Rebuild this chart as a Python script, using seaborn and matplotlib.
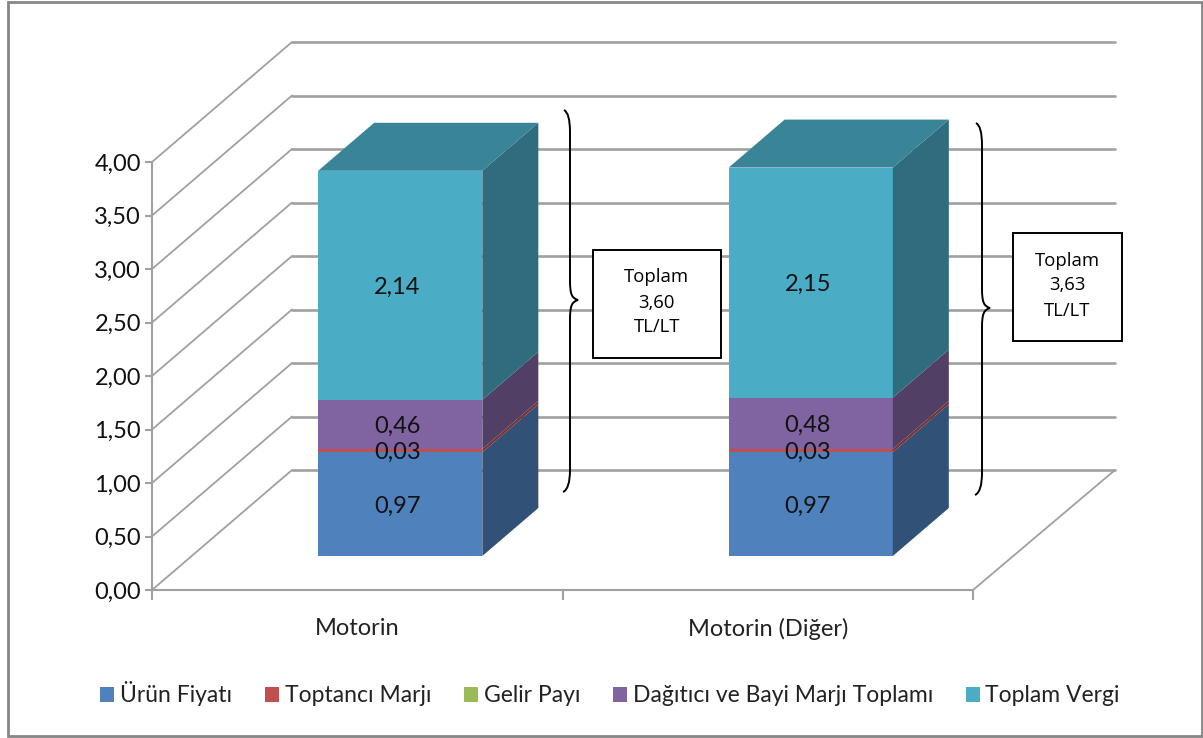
import matplotlib.pyplot as plt
import matplotlib.patches as mpatches
from matplotlib.path import Path
from matplotlib.transforms import Affine2D
import numpy as np
import seaborn as sns

categories = ['Motorin', 'Motorin (Diğer)']
series_names = ['Ürün Fiyatı', 'Toptancı Marjı', 'Gelir Payı',
                'Dağıtıcı ve Bayi Marjı Toplamı', 'Toplam Vergi']
urun_fiyati = [0.97, 0.97]
toptanci_marji = [0.03, 0.03]
gelir_payi = [0.0, 0.0]
dagitici_bayi = [0.46, 0.48]
toplam_vergi = [2.14, 2.15]
series_values = [urun_fiyati, toptanci_marji, gelir_payi, dagitici_bayi, toplam_vergi]
toplam_labels = ['3,60', '3,63']
y_ticks = [0, 0.5, 1, 1.5, 2, 2.5, 3, 3.5, 4]

colors = ['#4F81BD', '#C0504D', '#9BBB59', '#8064A2', '#4BACC6']
grid_color = '#A0A0A0'
W, H = 1203, 738

# depth of the fake 3D box, in data units of the front plane
WALL_DX = 140 / 410.5
WALL_DY = 120 / 107.0
WALL_RIGHT_DX = 142 / 410.5
BAR_SHIFT_X = 0.307
BAR_SHIFT_Y = 0.2834
BAR_DEPTH = 0.4


def shade(color, factor):
    rgb = np.array(plt.matplotlib.colors.to_rgb(color))
    return tuple(rgb * factor)


def fmt(v):
    return f'{v:.2f}'.replace('.', ',')


def draw_walls(ax, x0, x1):
    for v in y_ticks:
        ax.plot([x0, x0 + WALL_DX], [v, v + WALL_DY], color=grid_color, lw=1.3,
                clip_on=False, zorder=1)
        ax.plot([x0 + WALL_DX, x1 + WALL_RIGHT_DX], [v + WALL_DY, v + WALL_DY],
                color=grid_color, lw=1.9, clip_on=False, zorder=1)
    ax.plot([x1, x1 + WALL_RIGHT_DX], [0, WALL_DY], color=grid_color, lw=1.3,
            clip_on=False, zorder=1)


def draw_bars(ax):
    dx, dy = BAR_DEPTH * WALL_DX, BAR_DEPTH * WALL_DY
    bottoms = np.zeros(len(categories))
    for values, color in zip(series_values, colors):
        n_before = len(ax.patches)
        sns.barplot(x=categories, y=values, bottom=bottoms, color=color, width=0.4,
                    saturation=1, ax=ax, zorder=3, linewidth=0, clip_on=False)
        for bar, value in zip(ax.patches[n_before:], values):
            # push the front face back into the box
            bar.set_x(bar.get_x() + BAR_SHIFT_X * WALL_DX)
            bar.set_y(bar.get_y() + BAR_SHIFT_Y * WALL_DY)
            bx, by = bar.get_x(), bar.get_y()
            bw, bh = bar.get_width(), bar.get_height()
            side = [(bx + bw, by), (bx + bw + dx, by + dy),
                    (bx + bw + dx, by + bh + dy), (bx + bw, by + bh)]
            ax.add_patch(mpatches.Polygon(side, closed=True, fc=shade(color, 0.63),
                                          ec='none', zorder=3, clip_on=False))
            if value > 0:
                ax.text(bx + bw / 2 - 0.007, by + bh / 2, fmt(value), ha='center',
                        va='center_baseline', fontsize=17, color='#111111', zorder=6)
        bottoms = bottoms + np.array(values)

    # top faces of the stack
    top_color = shade(colors[-1], 0.77)
    for i, total in enumerate(bottoms):
        bx = i - 0.2 + BAR_SHIFT_X * WALL_DX
        by = total + BAR_SHIFT_Y * WALL_DY
        top = [(bx, by), (bx + 0.4, by), (bx + 0.4 + dx, by + dy), (bx + dx, by + dy)]
        ax.add_patch(mpatches.Polygon(top, closed=True, fc=top_color, ec='none',
                                      zorder=3, clip_on=False))


def brace(fig, px, x, top, tip, bottom):
    verts = [(x - 6, top), (x, top + 3), (x, top + 22),
             (x, tip - 20),
             (x, tip - 5), (x + 2, tip - 2), (x + 8, tip),
             (x + 2, tip + 2), (x, tip + 5), (x, tip + 20),
             (x, bottom - 22),
             (x, bottom - 3), (x - 7, bottom)]
    codes = [Path.MOVETO, Path.CURVE3, Path.CURVE3,
             Path.LINETO,
             Path.CURVE4, Path.CURVE4, Path.CURVE4,
             Path.CURVE4, Path.CURVE4, Path.CURVE4,
             Path.LINETO,
             Path.CURVE3, Path.CURVE3]
    fig.add_artist(mpatches.PathPatch(Path(verts, codes), fc='none', ec='black',
                                      lw=1.4, transform=px, zorder=8))


def note_box(fig, px, x0, y0, x1, y1, total):
    fig.add_artist(mpatches.Rectangle((x0, y0), x1 - x0, y1 - y0, fc='white', ec='black',
                                      lw=1.4, transform=px, zorder=8))
    fig.text((x0 + x1) / 2 / W, 1 - ((y0 + y1) / 2 - 1.5) / H, f'Toplam\n{total}\nTL/LT',
             ha='center', va='center', fontsize=13.3, linespacing=1.5,
             family='Open Sans', color='black', zorder=9)


def main():
    sns.set_theme(style='white')
    plt.rcParams['font.family'] = ['Lato', 'DejaVu Sans']

    fig = plt.figure(figsize=(W / 100, H / 100), dpi=100)
    ax = fig.add_axes([152 / W, 1 - 590 / H, (973 - 152) / W, (590 - 162) / H])
    ax.patch.set_alpha(0)

    draw_walls(ax, -0.5, 1.5)
    draw_bars(ax)
    ax.set_xlim(-0.5, 1.5)
    ax.set_ylim(0, 4)

    ax.set_yticks(y_ticks)
    ax.set_yticklabels([fmt(v) for v in y_ticks], fontsize=17, color='#111111',
                       va='center_baseline')
    ax.set_xticks([-0.5, 0.5, 1.5])
    ax.set_xticklabels([])
    ax.set_xticks([0, 1], labels=categories, minor=True, fontsize=17, color='#222222')
    ax.tick_params(axis='x', which='major', length=7, width=1.5, color=grid_color, bottom=True)
    ax.tick_params(axis='x', which='minor', length=0, pad=20, bottom=True)
    ax.tick_params(axis='y', length=5, width=1.5, color=grid_color, left=True, pad=3)
    for name in ['top', 'right']:
        ax.spines[name].set_visible(False)
    for name in ['left', 'bottom']:
        ax.spines[name].set_color(grid_color)
        ax.spines[name].set_linewidth(1.5)
    ax.set_xlabel('')

    handles = [mpatches.Patch(fc=c, ec='none', label=n) for c, n in zip(colors, series_names)]
    fig.legend(handles=handles, loc='center', bbox_to_anchor=(610 / W, 1 - 694 / H), ncol=5,
               frameon=False, fontsize=16.5, handlelength=0.61, handleheight=0.61,
               handletextpad=0.26, columnspacing=1.42, labelcolor='#222222')

    # pixel coordinates of the picture, y pointing down
    px = Affine2D().scale(1 / W, -1 / H).translate(0, 1) + fig.transFigure
    fig.add_artist(mpatches.Rectangle((8, 1.5), 1193.5, 734.5, fc='none', ec='#868686',
                                      lw=2, transform=px, zorder=10))
    brace(fig, px, 570, 110, 300, 492)
    brace(fig, px, 982, 123, 308, 495)
    note_box(fig, px, 592.5, 250, 721, 358, toplam_labels[0])
    note_box(fig, px, 1013, 233, 1122, 341, toplam_labels[1])

    fig.savefig('out.png', dpi=100, facecolor='white')


if __name__ == '__main__':
    main()
